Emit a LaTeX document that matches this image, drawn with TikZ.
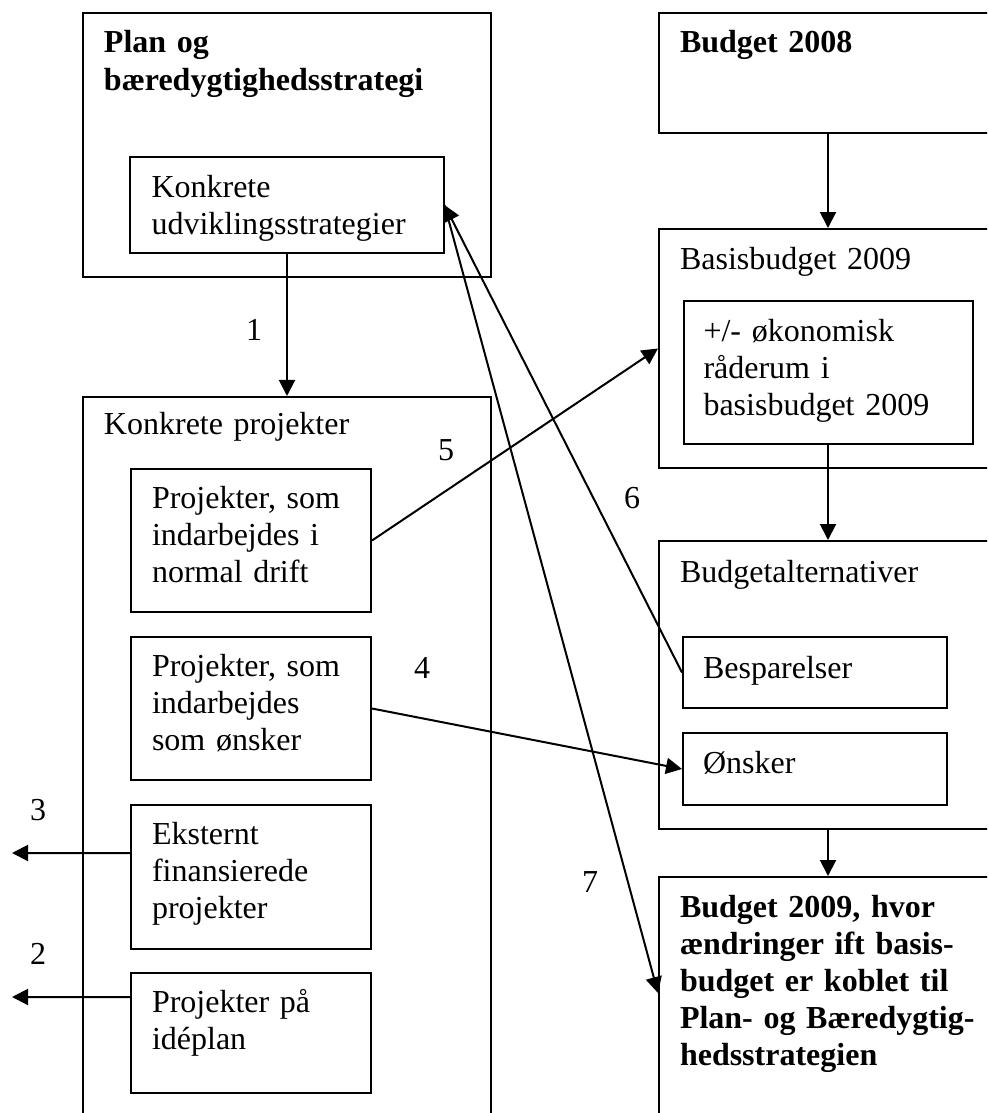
\documentclass[tikz,border=0pt]{standalone}
\usepackage{fontspec}
\setmainfont{Liberation Serif}
\usepackage{tikz}
\usetikzlibrary{calc,arrows.meta}

\begin{document}
\begin{tikzpicture}[x=0.4pt,y=-0.4pt,line width=0.8pt]
	\tikzstyle{box}=[draw,rectangle,inner sep=0pt];
	\tikzstyle{txt}=[anchor=base west,inner sep=0pt,text width=160pt,align=left,font=\fontsize{12.8}{14.8}\selectfont];
	\tikzstyle{fed}=[txt,font=\fontsize{12.8}{14.8}\selectfont\bfseries];
	\tikzstyle{num}=[inner sep=0pt,font=\fontsize{12.8}{14.8}\selectfont];
	\tikzstyle{pil}=[-{Triangle[length=6.4pt,width=6.4pt]}];
	\useasboundingbox (0,0) rectangle (987,1113);
	\clip (0,0) rectangle (987,1113);
	% left column
	\node[box,minimum width=163.2pt,minimum height=105.6pt] (plan)  at (287,145)    {};
	\node[box,minimum width=125.2pt,minimum height=38.4pt]  (udv)   at (287,205)    {};
	\node[box,minimum width=163.2pt,minimum height=293.2pt] (proj)  at (287,763.5)  {};
	\node[box,minimum width=96pt,minimum height=57.2pt]     (drift) at (251,540.5)  {};
	\node[box,minimum width=96pt,minimum height=57.2pt]     (oensk) at (251,708.5)  {};
	\node[box,minimum width=96pt,minimum height=57.6pt]     (ekst)  at (251,877)    {};
	\node[box,minimum width=96pt,minimum height=48pt]       (ide)   at (251,1033)   {};
	% right column
	\node[box,minimum width=135.2pt,minimum height=48pt]    (b2008)  at (828,73)     {};
	\node[box,minimum width=135.2pt,minimum height=95.6pt]  (basis)  at (828,348.5)  {};
	\node[box,minimum width=115.6pt,minimum height=57.2pt]  (raad)   at (828,372.5)  {};
	\node[box,minimum width=135.2pt,minimum height=115.2pt] (alt)    at (828,685)    {};
	\node[box,minimum width=105.6pt,minimum height=28.4pt]  (besp)   at (815,672.5)  {};
	\node[box,minimum width=105.6pt,minimum height=28.8pt]  (oenskr) at (815,769)    {};
	\node[box,minimum width=135.2pt,minimum height=101.2pt] (b2009)  at (828,1003.5) {};
	% texts
	\node[fed] (plantxt)   at ($(plan.north west)+(21,41)$)   {Plan og\\bæredygtighedsstrategi};
	\node[txt] (udvtxt)    at ($(udv.north west)+(21,41)$)    {Konkrete\\udviklingsstrategier};
	\node[txt] (projtxt)   at ($(proj.north west)+(21,39)$)   {Konkrete projekter};
	\node[txt] (drifttxt)  at ($(drift.north west)+(21,40)$)  {Projekter, som\\indarbejdes i\\normal drift};
	\node[txt] (oensktxt)  at ($(oensk.north west)+(21,40)$)  {Projekter, som\\indarbejdes\\som ønsker};
	\node[txt] (eksttxt)   at ($(ekst.north west)+(21,40)$)   {Eksternt\\finansierede\\projekter};
	\node[txt] (idetxt)    at ($(ide.north west)+(21,40)$)    {Projekter på\\idéplan};
	\node[fed] (b2008txt)  at ($(b2008.north west)+(21,41)$)  {Budget 2008};
	\node[txt] (basistxt)  at ($(basis.north west)+(21,41)$)  {Basisbudget 2009};
	\node[txt] (raadtxt)   at ($(raad.north west)+(20,41)$)   {+/- økonomisk\\råderum i\\basisbudget 2009};
	\node[txt] (alttxt)    at ($(alt.north west)+(21,42)$)    {Budgetalternativer};
	\node[txt] (besptxt)   at ($(besp.north west)+(20,42)$)   {Besparelser};
	\node[txt] (oenskrtxt) at ($(oenskr.north west)+(20,41)$) {Ønsker};
	\node[fed] (b2009txt)  at ($(b2009.north west)+(21,41)$)  {Budget 2009, hvor\\ændringer ift basis-\\budget er koblet til\\Plan- og Bæredygtig-\\hedsstrategien};
	% numbers
	\node[num] (n1) at (254,330) {1};
	\node[num] (n2) at (38,954)  {2};
	\node[num] (n3) at (38,810)  {3};
	\node[num] (n4) at (422,668) {4};
	\node[num] (n5) at (446,450) {5};
	\node[num] (n6) at (632,498) {6};
	\node[num] (n7) at (590,882) {7};
	\coordinate (ud2) at (12,997);
	\coordinate (ud3) at (12,853);
	% arrows
	\draw[pil] (udv.south) -- (proj.north);
	\draw[pil] (b2008.south) -- (basis.north);
	\draw[pil] (raad.south) -- (alt.north);
	\draw[pil] (alt.south) -- (b2009.north);
	\draw[pil] ([yshift=14.4pt]ide.west) -- (ud2);
	\draw[pil] ([yshift=9.6pt]ekst.west) -- (ud3);
	\draw[pil] (oensk.east) -- (oenskr.west);
	\draw[pil] (drift.east) -- (basis.west);
	\draw[pil] (besp.west) -- (udv.east);
	\draw[pil] (udv.east) -- ([yshift=4.2pt]b2009.west);
\end{tikzpicture}
\end{document}
